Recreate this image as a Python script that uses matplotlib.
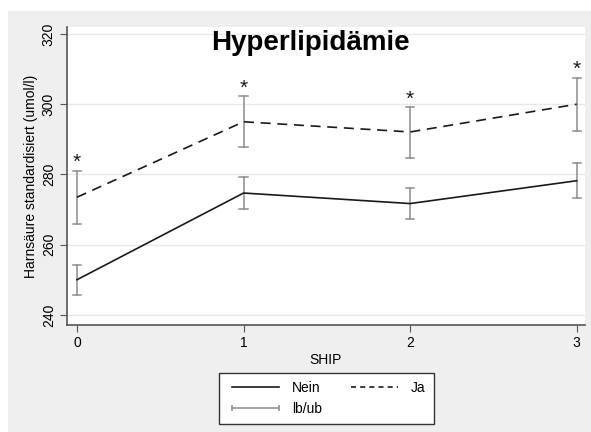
import matplotlib
matplotlib.use("Agg")
import matplotlib.pyplot as plt
from matplotlib.lines import Line2D
from matplotlib.patches import Rectangle

plt.rcParams["font.family"] = ["Liberation Sans", "DejaVu Sans"]

ship = [0, 1, 2, 3]
nein_mean = [250.0, 274.7, 271.7, 278.2]
nein_lb = [245.6, 270.1, 267.4, 273.3]
nein_ub = [254.3, 279.4, 276.0, 283.2]
ja_mean = [273.5, 295.0, 292.1, 300.0]
ja_lb = [265.9, 287.7, 284.8, 292.5]
ja_ub = [280.9, 302.2, 299.1, 307.6]
yticks = [240, 260, 280, 300, 320]

W, H = 591, 432
fig = plt.figure(figsize=(W / 100, H / 100), dpi=100, facecolor="white")
fig.patches.append(Rectangle((8 / W, 0), 1, 1 - 11 / H, transform=fig.transFigure,
                             facecolor="#efefef", edgecolor="none", zorder=-5))

ax = fig.add_axes([67 / W, 1 - 325 / H, (585 - 67) / W, (325 - 27) / H])
ax.set_facecolor("white")

err_col = "#8c8c8c"
for lb, ub in [(nein_lb, nein_ub), (ja_lb, ja_ub)]:
    for x, lo, hi in zip(ship, lb, ub):
        ax.plot([x, x], [lo, hi], color=err_col, lw=1.1, zorder=2)
        for v in (lo, hi):
            ax.plot([x - 0.025, x + 0.025], [v, v], color=err_col, lw=1.1, zorder=2)

ax.plot(ship, nein_mean, color="#1a1a1a", lw=1.2, zorder=3)
ax.plot(ship, ja_mean, color="#1a1a1a", lw=1.2, ls=(0, (6, 4)), zorder=3)

for x, hi in zip(ship, ja_ub):
    ax.text(x, hi - 0.3, "*", ha="center", va="bottom", fontsize=15, color="#1a1a1a")

ax.set_xlim(-0.06, 3.05)
ax.set_ylim(237.1, 322.0)
ax.set_xticks(ship)
ax.set_yticks(yticks)
ax.set_yticklabels([str(t) for t in yticks], rotation=90, va="center")
ax.tick_params(axis="both", direction="out", length=5, width=0.8, color="#555555",
               labelsize=10, pad=3)
ax.grid(axis="y", color="#e8e8e8", lw=1)
ax.set_axisbelow(True)
for s in ["top", "right"]:
    ax.spines[s].set_visible(False)
for s in ["left", "bottom"]:
    ax.spines[s].set_color("#555555")
    ax.spines[s].set_linewidth(1.2)

ax.set_xlabel("SHIP", fontsize=10, labelpad=2)
ax.set_ylabel("Harnsäure standardisiert (umol/l)", fontsize=10, labelpad=3)
ax.text(0.47, 0.99, "Hyperlipidämie", transform=ax.transAxes, ha="center", va="top",
        fontsize=20, fontweight="bold")

h_nein = Line2D([], [], color="#1a1a1a", lw=1.2)
h_ja = Line2D([], [], color="#1a1a1a", lw=1.2, ls=(0, (3, 2.5)))
h_ci = Line2D([], [], color=err_col, lw=1.1, marker="|", markersize=5, markeredgewidth=1.1)
blank = Line2D([], [], color="none")
leg = fig.legend([h_nein, h_ci, h_ja, blank], ["Nein", "lb/ub", "Ja", ""], ncol=2, numpoints=2,
                 loc="upper center", bbox_to_anchor=(326.5 / W, 1 - 373 / H),
                 fancybox=False, edgecolor="#333333", framealpha=1,
                 fontsize=10, handlelength=4, borderpad=0.6, labelspacing=0.45,
                 columnspacing=1.8, handletextpad=0.6, borderaxespad=0)
leg.get_frame().set_linewidth(1.0)

fig.savefig("out.png", dpi=100)
